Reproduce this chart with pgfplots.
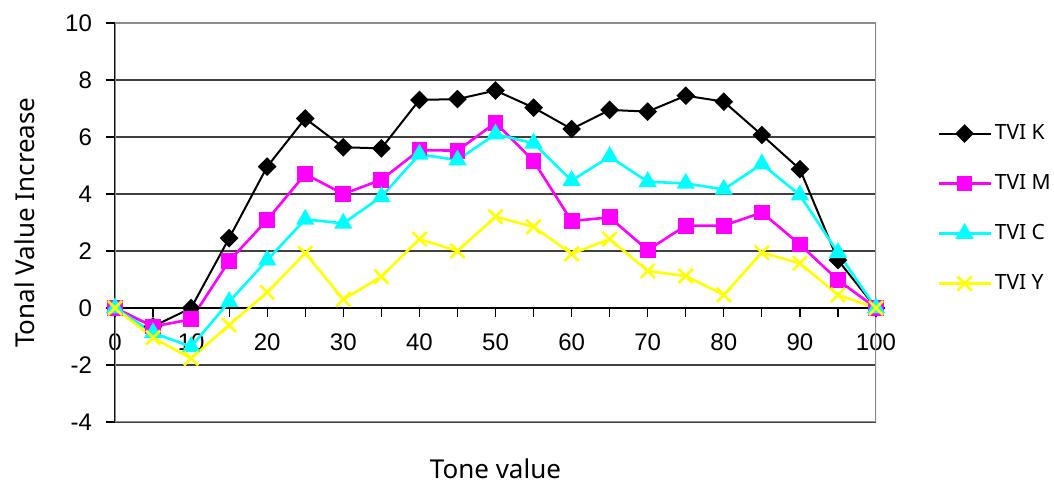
\documentclass[border=0pt]{standalone}
\usepackage{fontspec}
\setmainfont{Noto Sans}
\newfontfamily\tickfont{Liberation Sans}
\usepackage{pgfplots}
\pgfplotsset{compat=1.18}
\definecolor{cM}{RGB}{255,0,255}
\definecolor{cC}{RGB}{0,255,255}
\definecolor{cY}{RGB}{255,255,0}
\pgfplotstableread{
x K M C Y
0 0 0 0 0
5 -0.65 -0.65 -0.87 -1.04
10 0 -0.4 -1.36 -1.77
15 2.45 1.65 0.22 -0.6
20 4.96 3.09 1.68 0.55
25 6.65 4.7 3.11 1.92
30 5.64 4.0 2.97 0.3
35 5.6 4.5 3.9 1.1
40 7.3 5.54 5.39 2.42
45 7.33 5.52 5.19 2.0
50 7.63 6.5 6.1 3.2
55 7.03 5.16 5.78 2.85
60 6.28 3.05 4.47 1.9
65 6.95 3.18 5.31 2.42
70 6.89 2.03 4.43 1.3
75 7.45 2.89 4.37 1.12
80 7.24 2.89 4.16 0.46
85 6.07 3.35 5.05 1.94
90 4.87 2.23 3.96 1.57
95 1.68 0.98 1.94 0.46
100 0 0 0 0
}\data
\begin{document}
\begin{tikzpicture}
\begin{axis}[
  at={(0,0)}, anchor=south west,
  scale only axis, width=380.5pt, height=199.5pt,
  xmin=0, xmax=100, ymin=-4, ymax=10,
  axis x line=middle, axis y line=left,
  axis line style={-, black, line width=0.6pt},
  hide obscured x ticks=false,
  xtick={0,10,...,100}, minor xtick={5,15,...,95},
  ytick={-4,-2,...,10},
  ymajorgrids,
  major grid style={black!75, line width=0.6pt},
  tick align=outside, major tick length=4.5pt, minor tick length=4.5pt,
  tick style={black, line width=0.6pt},
  /pgf/number format/assume math mode=true,
  ticklabel style={font=\tickfont\fontsize{12}{14}\selectfont},
  xticklabel style={yshift=-5pt},
  yticklabel style={xshift=-3.5pt},
  xlabel={Tone value}, ylabel={Tonal Value Increase},
  every axis x label/.style={at={(axis description cs:0.5,-0.118)}, anchor=center, font=\fontsize{13}{15}\selectfont},
  every axis y label/.style={at={(axis description cs:-0.118,0.5)}, anchor=center, rotate=90, font=\fontsize{13}{15}\selectfont},
  legend style={draw=none, fill=none, inner sep=0pt, at={(axis description cs:1.080,0.535)}, anchor=west,
    font=\fontsize{10.5}{12}\selectfont, row sep=14.5pt,
    nodes={inner xsep=1.5pt, inner ysep=0pt, text height=8pt, text depth=2.5pt}},
  legend cell align=left,
  legend image code/.code={\draw[mark repeat=2,mark phase=2,#1] plot coordinates {(0pt,0pt) (13pt,0pt) (26pt,0pt)};},
]
\draw[black!45, line width=1pt] (rel axis cs:0,0) rectangle (rel axis cs:1,1);
\addplot[black, line width=1pt, mark=square*, mark size=2.8pt, mark options={rotate=45, solid}] table[x=x,y=K] {\data};
\addlegendentry{TVI K}
\addplot[cM, line width=1.3pt, mark=square*, mark size=3.3pt, mark options={solid}] table[x=x,y=M] {\data};
\addlegendentry{TVI M}
\addplot[cC, line width=1.3pt, mark=triangle*, mark size=4pt, mark options={solid}] table[x=x,y=C] {\data};
\addlegendentry{TVI C}
\addplot[cY, line width=1.3pt, mark=x, mark size=5pt, mark options={solid, line width=1.3pt}] table[x=x,y=Y] {\data};
\addlegendentry{TVI Y}
\end{axis}
\pgfresetboundingbox
\useasboundingbox (-57.5pt,-31.5pt) rectangle (469.5pt,211pt);
\end{tikzpicture}
\end{document}
